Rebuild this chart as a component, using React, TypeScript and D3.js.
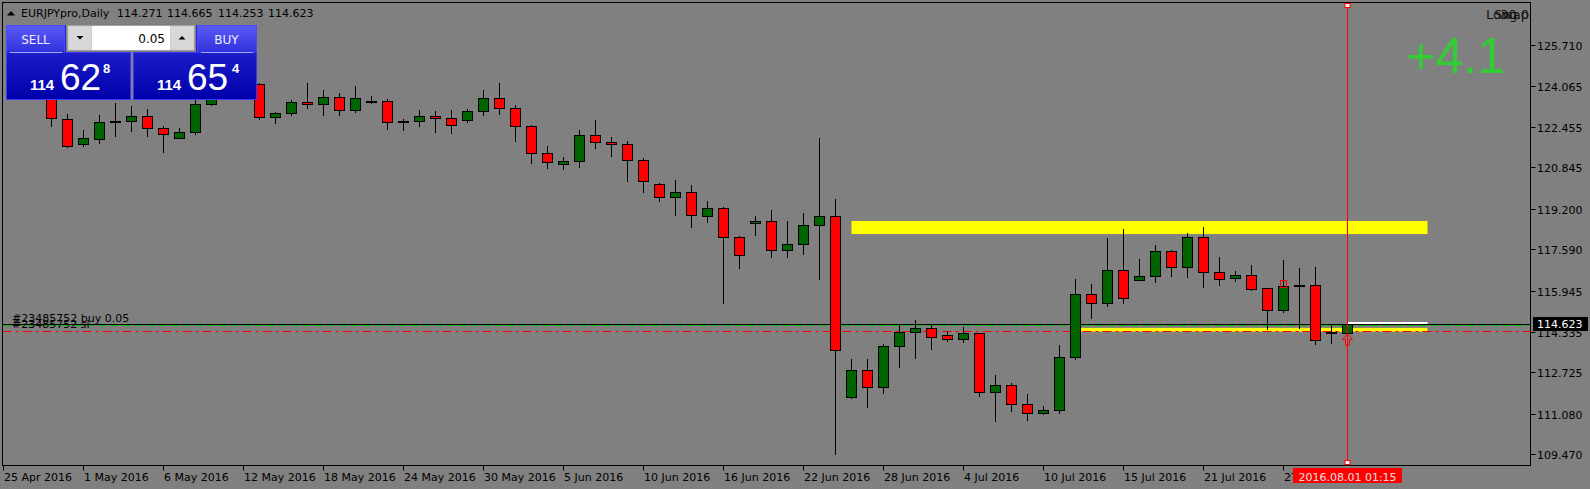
import React from 'react';
import * as d3 from 'd3';

// ---- data (EURJPYpro, Daily) ----
const opens = [124.20, 124.70, 124.95, 125.05, 122.773, 121.758, 121.980, 122.654, 122.670, 122.868,
  122.393, 121.996, 122.234, 123.34, 124.05, 124.35, 124.148, 122.852, 122.987, 123.435,
  123.344, 123.633, 123.130, 123.435, 123.463, 122.654, 122.670, 122.868, 122.789, 122.710,
  123.066, 123.582, 123.185, 122.472, 121.402, 120.966, 121.085, 122.115, 121.838, 121.758,
  121.124, 120.173, 119.658, 119.856, 118.905, 119.222, 118.072, 118.627, 118.707, 117.557,
  117.795, 118.548, 118.905, 111.731, 112.813, 112.127, 113.752, 114.307, 114.466, 114.200,
  114.030, 114.267, 111.929, 112.206, 111.453, 111.120, 111.215, 113.316, 115.813, 115.457,
  116.764, 116.368, 116.527, 117.517, 116.883, 118.072, 116.685, 116.447, 116.566, 116.051,
  115.179, 116.142, 116.170, 114.291, 114.271];
const highs = [124.85, 125.20, 125.45, 125.60, 122.959, 122.325, 122.920, 123.383, 123.276, 123.146,
  122.484, 122.393, 123.514, 124.25, 124.55, 124.60, 124.188, 123.027, 123.514, 124.188,
  123.911, 123.792, 124.069, 123.673, 123.542, 122.749, 123.118, 123.066, 123.106, 123.158,
  123.911, 124.188, 123.316, 122.523, 121.691, 121.255, 122.325, 122.722, 122.048, 121.889,
  121.215, 120.213, 120.343, 120.133, 119.511, 119.273, 118.124, 118.917, 119.154, 118.718,
  119.035, 122.008, 119.590, 113.261, 113.261, 113.843, 114.624, 114.795, 114.624, 114.347,
  114.517, 114.280, 112.615, 112.286, 111.850, 111.386, 113.804, 116.420, 116.221, 118.045,
  118.401, 117.212, 117.767, 117.569, 118.243, 118.481, 117.292, 116.737, 116.974, 116.063,
  117.173, 116.856, 116.895, 114.608, 114.665];
const lows = [124.05, 124.40, 124.60, 122.496, 121.670, 121.703, 121.822, 122.099, 122.297, 122.099,
  121.465, 121.990, 122.179, 123.30, 123.85, 123.95, 122.749, 122.615, 122.908, 123.209,
  122.932, 122.932, 123.051, 123.383, 122.365, 122.325, 122.496, 122.258, 122.218, 122.654,
  122.932, 122.971, 121.901, 121.029, 120.831, 120.791, 120.871, 121.624, 121.307, 120.316,
  119.880, 119.523, 118.968, 118.492, 118.691, 115.480, 116.867, 118.175, 117.303, 117.303,
  117.422, 116.431, 109.472, 111.720, 111.358, 111.913, 112.944, 113.300, 113.657, 113.974,
  113.934, 111.794, 110.803, 111.200, 110.843, 111.081, 111.120, 113.261, 114.886, 115.361,
  115.457, 116.360, 116.313, 116.550, 116.511, 116.114, 116.194, 116.352, 115.984, 114.450,
  115.123, 114.489, 113.855, 113.895, 114.253];
const closes = [124.70, 124.95, 125.05, 122.789, 121.679, 121.996, 122.630, 122.654, 122.868, 122.393,
  122.155, 122.246, 123.344, 124.05, 124.35, 124.12, 122.829, 122.999, 123.423, 123.344,
  123.633, 123.130, 123.582, 123.435, 122.630, 122.654, 122.868, 122.789, 122.511, 123.066,
  123.582, 123.185, 122.472, 121.402, 121.045, 121.085, 122.115, 121.838, 121.758, 121.124,
  120.292, 119.658, 119.856, 118.944, 119.222, 118.072, 117.359, 118.707, 117.557, 117.795,
  118.548, 118.905, 113.594, 112.813, 112.127, 113.752, 114.307, 114.466, 114.133, 114.030,
  114.267, 111.929, 112.206, 111.453, 111.097, 111.215, 113.316, 115.813, 115.457, 116.764,
  115.655, 116.527, 117.517, 116.883, 118.072, 116.685, 116.408, 116.566, 116.035, 115.179,
  116.130, 116.142, 113.990, 114.291, 114.623];

const dateLabels = ['25 Apr 2016', '1 May 2016', '6 May 2016', '12 May 2016', '18 May 2016', '24 May 2016',
  '30 May 2016', '5 Jun 2016', '10 Jun 2016', '16 Jun 2016', '22 Jun 2016', '28 Jun 2016', '4 Jul 2016',
  '10 Jul 2016', '15 Jul 2016', '21 Jul 2016', '27 Jul 2016'];
const priceTicks = [125.710, 124.065, 122.455, 120.845, 119.200, 117.590, 115.945, 114.335, 112.725, 111.080, 109.470];

const symbolTitle = 'EURJPYpro,Daily';
const bidPrice = 114.623;
const orderPrice = 114.60;
const slPrice = 114.358;
const sellQuote = ['114', '62', '8'];
const buyQuote = ['114', '65', '4'];
const lotSize = '0.05';
const orderLabel = '#23485752 buy 0.05';
const slLabel = '#23485752 sl';
const cursorLabel = '2016.08.01 01:15';
const cursorBar = 84;
const profitText = '+4.1';
// rectangles: [barStart, barEnd, priceTop, priceBottom]
const bandHigh = [53, 89, 118.72, 118.20];
const bandLow = [67.35, 89, 114.48, 114.33];
const whiteLine = [84, 89, 114.665];

const FONT = 'DejaVu Sans, Tahoma, sans-serif';
const ARIAL = 'Liberation Sans, Arial, sans-serif';

export default function App() {
  const W = 1590, H = 489;
  const L = 2.5, T = 2.5, R = 1530.5, B = 465.5;
  const x = d3.scaleLinear().domain([0, 84]).range([3.5, 1347.5]);
  const y = d3.scaleLinear().domain([109.470, 125.710]).range([454.3, 44.6]);
  const py = (p: number) => Math.round(y(p)) + 0.5;

  const candles = opens.map((o, i) => {
    const c = closes[i], h = highs[i], l = lows[i];
    const cx = x(i);
    const top = py(Math.max(o, c));
    const bot = py(Math.min(o, c));
    const up = c >= o;
    const wick = <line key={'w' + i} x1={cx} x2={cx} y1={Math.round(y(h))} y2={Math.round(y(l)) + 1} stroke="#000" strokeWidth={1} />;
    let body;
    if (Math.abs(o - c) < 0.0005) {
      body = <rect key={'b' + i} x={cx - 5.5} y={Math.round(y(o)) - 1} width={11} height={2} fill="#000" />;
    } else {
      body = <rect key={'b' + i} x={cx - 5} y={top} width={10} height={Math.max(1, bot - top)} fill={up ? '#006400' : '#ff0000'} stroke="#000" strokeWidth={1} />;
    }
    return <g key={i}>{wick}{body}</g>;
  });

  const last = opens.length - 1;
  const headerVals = [opens[last], highs[last], lows[last], closes[last]].map(v => v.toFixed(3));
  const headerX = [117, 167, 218, 268];

  const cxCursor = x(cursorBar);

  return (
    <div style={{ position: 'absolute', left: 0, top: 0, width: W, height: H }}>
      <svg width={W} height={H} style={{ display: 'block', background: '#808080' }}>
        <defs>
          <clipPath id="plot"><rect x={3} y={3} width={1527} height={462} /></clipPath>
          <clipPath id="bars"><rect x={9} y={3} width={1521} height={462} /></clipPath>
          <linearGradient id="btnG" x1="0" y1="0" x2="0" y2="1">
            <stop offset="0" stopColor="#5c5cf6" />
            <stop offset="1" stopColor="#3030dc" />
          </linearGradient>
          <linearGradient id="boxG" x1="0" y1="0" x2="0" y2="1">
            <stop offset="0" stopColor="#2e2ed8" />
            <stop offset="1" stopColor="#0000aa" />
          </linearGradient>
        </defs>
        <rect x={0} y={0} width={W} height={H} fill="#808080" />

        <g clipPath="url(#plot)">
          {/* rectangles */}
          <rect x={x(bandHigh[0])} y={y(bandHigh[2])} width={x(bandHigh[1]) - x(bandHigh[0])} height={y(bandHigh[3]) - y(bandHigh[2])} fill="#ffff00" />
          <rect x={x(bandLow[0])} y={y(bandLow[2])} width={x(bandLow[1]) - x(bandLow[0])} height={y(bandLow[3]) - y(bandLow[2])} fill="#ffff00" />
          <line x1={x(whiteLine[0])} x2={x(whiteLine[1])} y1={Math.round(y(whiteLine[2]))} y2={Math.round(y(whiteLine[2]))} stroke="#ffffff" strokeWidth={2} />
          {/* order / sl lines */}
          <line x1={L} x2={R} y1={py(orderPrice)} y2={py(orderPrice)} stroke="#00c000" strokeDasharray="8,4" />
          <line x1={L} x2={R} y1={py(slPrice)} y2={py(slPrice)} stroke="#ff0000" strokeDasharray="9,4,3,4" />
          <line x1={L} x2={R} y1={py(bidPrice)} y2={py(bidPrice)} stroke="#000000" />
          <g clipPath="url(#bars)">{candles}</g>
          {/* arrows */}
          <rect x={1280.5} y={280.5} width={6} height={7} fill="none" stroke="#ff0000" />
          <path d={`M${cxCursor},${334} L${cxCursor + 5},${339.5} L${cxCursor + 2},${339.5} L${cxCursor + 2},${345} L${cxCursor - 2},${345} L${cxCursor - 2},${339.5} L${cxCursor - 5},${339.5} Z`} fill="#808080" stroke="#ff0000" strokeWidth={1} />
          {/* cursor line */}
          <line x1={cxCursor} x2={cxCursor} y1={3} y2={465} stroke="#ff0000" />
        </g>
        <rect x={cxCursor - 2.5} y={3.5} width={5} height={4} fill="#fff" stroke="#ff0000" />
        <rect x={cxCursor - 2.5} y={460.5} width={5} height={4} fill="#fff" stroke="#ff0000" />

        {/* order labels */}
        <text x={12} y={322} fontFamily={FONT} fontSize={11} fill="#000">{orderLabel}</text>
        <text x={12} y={328} fontFamily={FONT} fontSize={11} fill="#000">{slLabel}</text>

        {/* frame */}
        <rect x={L} y={T} width={R - L} height={B - T} fill="none" stroke="#000" />

        {/* price axis */}
        {priceTicks.map((p, i) => (
          <g key={'pt' + i}>
            <line x1={R} x2={R + 5} y1={py(p)} y2={py(p)} stroke="#000" />
            <text x={1537} y={Math.round(y(p)) + 4.5} fontFamily={FONT} fontSize={11} fill="#000">{p.toFixed(3)}</text>
          </g>
        ))}
        <rect x={1533} y={317} width={55} height={14} fill="#000" />
        <text x={1537} y={328} fontFamily={FONT} fontSize={11} fill="#fff">{bidPrice.toFixed(3)}</text>

        {/* time axis */}
        {dateLabels.map((d, k) => {
          const tx = x(k * 5);
          return (
            <g key={'dt' + k}>
              <line x1={tx} x2={tx} y1={B} y2={B + 5} stroke="#000" />
              <text x={tx + 0.5} y={481} fontFamily={FONT} fontSize={11} fill="#000">{d}</text>
            </g>
          );
        })}
        <rect x={cxCursor - 54.5} y={468} width={109} height={15} fill="#ff0000" />
        <text x={cxCursor} y={480.5} textAnchor="middle" fontFamily={FONT} fontSize={11} fill="#e0e0e0">{cursorLabel}</text>

        {/* header */}
        <path d="M7,15.5 L15,15.5 L11,11 Z" fill="#000" />
        <text x={21} y={17} fontFamily={FONT} fontSize={11} fill="#000">{symbolTitle}</text>
        {headerVals.map((v, i) => (
          <text key={'hv' + i} x={headerX[i]} y={17} fontFamily={FONT} fontSize={11} fill="#000">{v}</text>
        ))}

        {/* top right info (overlapping labels as in the reference) */}
        <text x={1529} y={19} textAnchor="end" fontFamily={FONT} fontSize={13} fill="#141414">Swap</text>
        <text x={1529} y={19} textAnchor="end" fontFamily={FONT} fontSize={13} fill="#141414">30.0</text>
        <text x={1486} y={19} fontFamily={FONT} fontSize={13} fill="#141414">Long</text>
        <text x={1505} y={73} textAnchor="end" fontFamily={ARIAL} fontSize={50} fill="#32cd32">{profitText}</text>

        {/* trade panel */}
        <g>
          <rect x={6} y={25} width={125} height={75} fill="url(#boxG)" />
          <rect x={133} y={25} width={124} height={75} fill="url(#boxG)" />
          <rect x={6.5} y={25.5} width={58} height={27} fill="url(#btnG)" stroke="#4a4aff" />
          <rect x={197.5} y={25.5} width={59} height={27} fill="url(#btnG)" stroke="#4a4aff" />
          <rect x={6.5} y={52.5} width={124} height={47} fill="none" stroke="#3a3aff" />
          <rect x={133.5} y={52.5} width={123} height={47} fill="none" stroke="#3a3aff" />
          <line x1={10} x2={62} y1={52.5} y2={52.5} stroke="#a8a8ff" />
          <line x1={201} x2={253} y1={52.5} y2={52.5} stroke="#a8a8ff" />
          <text x={35.5} y={44} textAnchor="middle" fontFamily={FONT} fontSize={12} fill="#eef">SELL</text>
          <text x={226.5} y={44} textAnchor="middle" fontFamily={FONT} fontSize={12} fill="#eef">BUY</text>
          {/* spinner */}
          <rect x={66} y={25} width={130} height={27} fill="#808080" />
          <rect x={67.5} y={25.5} width={127} height={25} fill="#c8c8c8" stroke="#a0a0a0" />
          <rect x={68.5} y={26.5} width={23} height={23} fill="#d8d8d8" />
          <rect x={92} y={26} width={78} height={24} fill="#ffffff" />
          <rect x={170.5} y={26.5} width={23} height={23} fill="#d8d8d8" />
          <path d="M76.5,36 L83.5,36 L80,39.5 Z" fill="#000" />
          <path d="M178.5,39.5 L185.5,39.5 L182,36 Z" fill="#000" />
          <text x={165} y={43} textAnchor="end" fontFamily={FONT} fontSize={12} fill="#000">{lotSize}</text>
          {/* quotes */}
          <text x={30} y={90} fontFamily={ARIAL} fontSize={15} fontWeight="bold" fill="#fff">{sellQuote[0]}</text>
          <text x={60} y={90} fontFamily={ARIAL} fontSize={37} fill="#fff">{sellQuote[1]}</text>
          <text x={103} y={73} fontFamily={ARIAL} fontSize={13} fontWeight="bold" fill="#fff">{sellQuote[2]}</text>
          <text x={157} y={90} fontFamily={ARIAL} fontSize={15} fontWeight="bold" fill="#fff">{buyQuote[0]}</text>
          <text x={187} y={90} fontFamily={ARIAL} fontSize={37} fill="#fff">{buyQuote[1]}</text>
          <text x={232} y={73} fontFamily={ARIAL} fontSize={13} fontWeight="bold" fill="#fff">{buyQuote[2]}</text>
        </g>
      </svg>
    </div>
  );
}
